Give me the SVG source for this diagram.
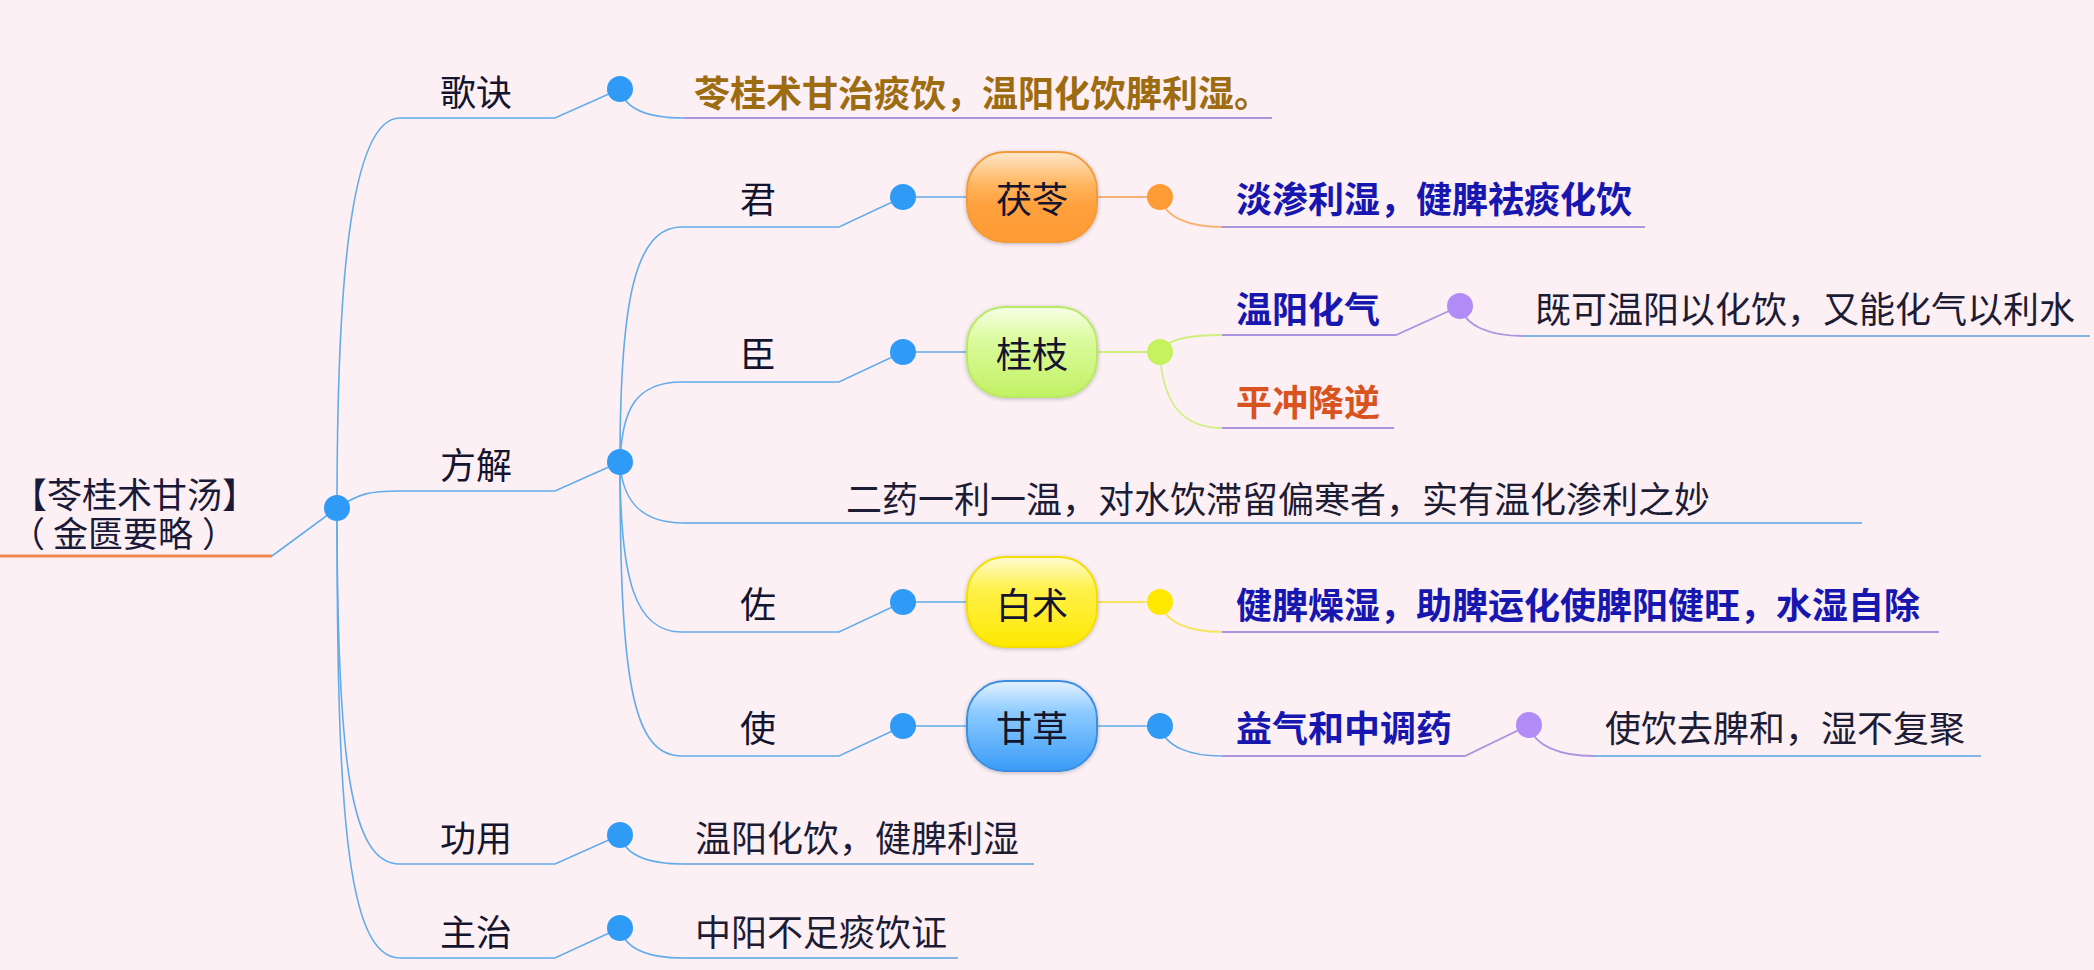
<svg xmlns="http://www.w3.org/2000/svg" width="2094" height="970" viewBox="0 0 2094 970">
<style>
text{font-family:"Noto Sans CJK SC","Noto Sans",sans-serif;font-size:36px;dominant-baseline:central}
.lbl{fill:#14142e;text-anchor:middle}
.reg{fill:#1c1c34}
.root{fill:#1a1a38;font-size:35px}
.blue{fill:#1717b0;font-weight:bold}
.red{fill:#d9531e;font-weight:bold}
.brown{fill:#9d6c10;font-weight:bold}
.box{fill:#14142e;text-anchor:middle}
.ln{fill:none;stroke:#63acea;stroke-width:1.6}
.ul{fill:none;stroke:#7fb6e4;stroke-width:2}
.pu{fill:none;stroke:#ab94e0;stroke-width:1.8}
.dot{fill:#2f9bf6}
.pdot{fill:#b18cf6}
</style>
<defs>
<linearGradient id="gO" x1="0" y1="0" x2="0" y2="1"><stop offset="0" stop-color="#ffe8cc"/><stop offset="0.35" stop-color="#ffb660"/><stop offset="0.6" stop-color="#ffa03c"/><stop offset="1" stop-color="#fd9a33"/></linearGradient>
<linearGradient id="gG" x1="0" y1="0" x2="0" y2="1"><stop offset="0" stop-color="#f6ffe6"/><stop offset="0.35" stop-color="#dcfba0"/><stop offset="1" stop-color="#c2f163"/></linearGradient>
<linearGradient id="gY" x1="0" y1="0" x2="0" y2="1"><stop offset="0" stop-color="#fffbd4"/><stop offset="0.35" stop-color="#fff14c"/><stop offset="1" stop-color="#ffe800"/></linearGradient>
<linearGradient id="gB" x1="0" y1="0" x2="0" y2="1"><stop offset="0" stop-color="#e4f2ff"/><stop offset="0.35" stop-color="#8ccaff"/><stop offset="1" stop-color="#3a9cf6"/></linearGradient>
<filter id="sh" x="-20%" y="-20%" width="140%" height="140%"><feGaussianBlur in="SourceAlpha" stdDeviation="2"/><feOffset dy="1"/><feComponentTransfer><feFuncA type="linear" slope="0.25"/></feComponentTransfer><feMerge><feMergeNode/><feMergeNode in="SourceGraphic"/></feMerge></filter>
</defs>
<rect width="2094" height="970" fill="#fcf0f5"/>

<g id="connectors">
  <line x1="0" y1="556" x2="272" y2="556" stroke="#ec8a4e" stroke-width="3"/>
  <path class="ln" d="M272,556 L337,508"/>
  <path class="ln" d="M337,508 C337,300 348,118 400,118"/>
  <path class="ln" d="M337,508 C360,493 370,491 400,491"/>
  <path class="ln" d="M337,508 C337,760 350,864 400,864"/>
  <path class="ln" d="M337,508 C337,800 345,958 400,958"/>
  <path class="ln" d="M400,118 L555,118 L620,89"/>
  <path class="ln" d="M400,491 L555,491 L620,462"/>
  <path class="ln" d="M400,864 L555,864 L620,835"/>
  <path class="ln" d="M400,958 L555,958 L620,928"/>
  <path class="ln" d="M620,89 C625,110 650,118 684,118"/>
  <path class="pu" d="M684,118 L1272,118"/>
  <path class="ln" d="M620,835 C625,856 650,864 684,864"/>
  <path class="ul" d="M684,864 L1034,864"/>
  <path class="ln" d="M620,928 C625,950 650,958 684,958"/>
  <path class="ul" d="M684,958 L958,958"/>
  <path class="ln" d="M620,462 C620,300 635,227 682,227"/>
  <path class="ln" d="M620,462 C622,410 635,382 682,382"/>
  <path class="ln" d="M620,462 C622,500 640,523 684,523"/>
  <path class="ln" d="M620,462 C620,580 635,632 682,632"/>
  <path class="ln" d="M620,462 C620,680 632,756 682,756"/>
  <path class="ul" d="M684,523 L1862,523"/>
  <path class="ln" d="M682,227 L839,227 L903,197"/>
  <path class="ln" d="M682,382 L839,382 L903,352"/>
  <path class="ln" d="M682,632 L839,632 L903,602"/>
  <path class="ln" d="M682,756 L839,756 L903,726"/>
  <path class="ln" d="M903,197 L967,197 M903,352 L967,352 M903,602 L967,602 M903,726 L967,726"/>
  <path fill="none" stroke="#f8b272" stroke-width="1.8" d="M1097,197 L1160,197 M1160,197 C1165,218 1190,227 1222,227"/>
  <path fill="none" stroke="#cdf07e" stroke-width="1.8" d="M1097,352 L1160,352 M1160,352 C1165,340 1185,335 1222,335 M1160,352 C1162,400 1180,428 1222,428"/>
  <path fill="none" stroke="#f6e45a" stroke-width="1.8" d="M1097,602 L1160,602 M1160,602 C1165,623 1190,632 1222,632"/>
  <path class="ln" d="M1097,726 L1160,726 M1160,726 C1165,747 1190,756 1222,756"/>
  <path class="pu" d="M1222,227 L1645,227"/>
  <path class="pu" d="M1222,335 L1396,335 L1460,306"/>
  <path class="pu" d="M1222,428 L1394,428"/>
  <path class="pu" d="M1460,306 C1465,326 1490,336 1523,336"/>
  <path class="ul" d="M1523,336 L2090,336"/>
  <path class="pu" d="M1222,632 L1939,632"/>
  <path class="pu" d="M1222,756 L1465,756 L1529,725"/>
  <path class="pu" d="M1529,725 C1534,746 1560,756 1594,756"/>
  <path class="ul" d="M1594,756 L1981,756"/>
</g>

<g id="root">
  <text class="root" x="12" y="492">【苓桂术甘汤】</text>
  <text class="root" x="10" y="531">（<tspan dx="8">金匮要略</tspan><tspan dx="9">）</tspan></text>
  <circle class="dot" cx="337" cy="508" r="13"/>
</g>

<g id="n-gejue"><text class="lbl" x="476" y="90">歌诀</text><circle class="dot" cx="620" cy="89" r="13"/></g>
<g id="n-gejue-text"><text class="brown" x="694" y="91">苓桂术甘治痰饮，温阳化饮脾利湿。</text></g>

<g id="n-fangjie"><text class="lbl" x="476" y="463">方解</text><circle class="dot" cx="620" cy="462" r="13"/></g>

<g id="n-jun"><text class="lbl" x="758" y="197">君</text><circle class="dot" cx="903" cy="197" r="13"/></g>
<g id="n-fuling"><rect x="967" y="152" width="130" height="90" rx="38" fill="url(#gO)" stroke="#f59a3a" stroke-width="2" filter="url(#sh)"/><text class="box" x="1032" y="197">茯苓</text><circle cx="1160" cy="197" r="13" fill="#fd9b35"/></g>
<g id="n-fuling-text"><text class="blue" x="1236" y="197">淡渗利湿，健脾祛痰化饮</text></g>

<g id="n-chen"><text class="lbl" x="758" y="352">臣</text><circle class="dot" cx="903" cy="352" r="13"/></g>
<g id="n-guizhi"><rect x="967" y="307" width="130" height="90" rx="38" fill="url(#gG)" stroke="#b9e963" stroke-width="2" filter="url(#sh)"/><text class="box" x="1032" y="352">桂枝</text><circle cx="1160" cy="352" r="13" fill="#c4f35e"/></g>
<g id="n-wenyang"><text class="blue" x="1236" y="307">温阳化气</text><circle class="pdot" cx="1460" cy="306" r="13"/></g>
<g id="n-wenyang-text"><text class="reg" x="1535" y="307">既可温阳以化饮，又能化气以利水</text></g>
<g id="n-pingchong"><text class="red" x="1236" y="400">平冲降逆</text></g>

<g id="n-eryao"><text class="reg" x="846" y="497">二药一利一温，对水饮滞留偏寒者，实有温化渗利之妙</text></g>

<g id="n-zuo"><text class="lbl" x="758" y="602">佐</text><circle class="dot" cx="903" cy="602" r="13"/></g>
<g id="n-baizhu"><rect x="967" y="557" width="130" height="90" rx="38" fill="url(#gY)" stroke="#f3de00" stroke-width="2" filter="url(#sh)"/><text class="box" x="1032" y="603">白术</text><circle cx="1160" cy="602" r="13" fill="#ffe800"/></g>
<g id="n-baizhu-text"><text class="blue" x="1236" y="603">健脾燥湿，助脾运化使脾阳健旺，水湿自除</text></g>

<g id="n-shi"><text class="lbl" x="758" y="726">使</text><circle class="dot" cx="903" cy="726" r="13"/></g>
<g id="n-gancao"><rect x="967" y="681" width="130" height="90" rx="38" fill="url(#gB)" stroke="#3a8ee2" stroke-width="2" filter="url(#sh)"/><text class="box" x="1032" y="726">甘草</text><circle class="dot" cx="1160" cy="726" r="13"/></g>
<g id="n-yiqi"><text class="blue" x="1236" y="726">益气和中调药</text><circle class="pdot" cx="1529" cy="725" r="13"/></g>
<g id="n-yiqi-text"><text class="reg" x="1605" y="726">使饮去脾和，湿不复聚</text></g>

<g id="n-gongyong"><text class="lbl" x="476" y="836">功用</text><circle class="dot" cx="620" cy="835" r="13"/></g>
<g id="n-gongyong-text"><text class="reg" x="695" y="836">温阳化饮，健脾利湿</text></g>

<g id="n-zhuzhi"><text class="lbl" x="476" y="930">主治</text><circle class="dot" cx="620" cy="928" r="13"/></g>
<g id="n-zhuzhi-text"><text class="reg" x="695" y="930">中阳不足痰饮证</text></g>
</svg>
